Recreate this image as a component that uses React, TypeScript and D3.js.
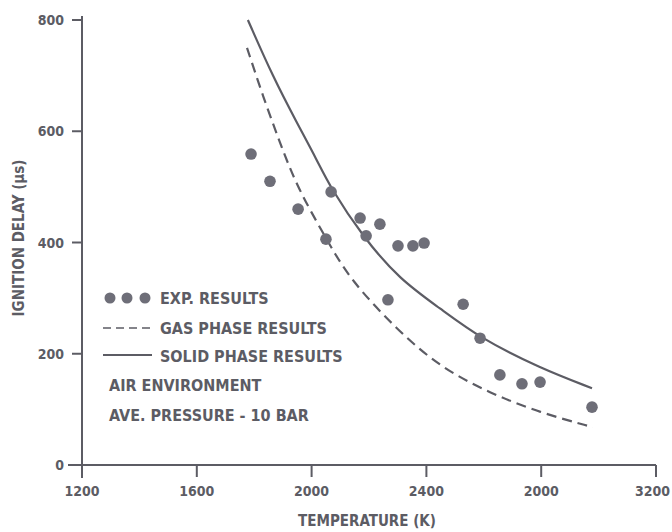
import React from "react";
import * as d3 from "d3";

const xTicks = [1200, 1600, 2000, 2400, 2800, 3200];
const xTickLabels = ["1200", "1600", "2000", "2400", "2000", "3200"];
const yTicks = [0, 200, 400, 600, 800];
const yTickLabels = ["0", "200", "400", "600", "800"];

const expT = [1789, 1855, 1953, 2050, 2068, 2169, 2190, 2238, 2266, 2301, 2353, 2392, 2528, 2587, 2656, 2733, 2796, 2977];
const expDelay = [559, 510, 460, 406, 491, 444, 412, 433, 297, 394, 394, 399, 289, 228, 162, 146, 149, 104];

const solidT = [1778, 1866, 1949, 2019, 2064, 2179, 2308, 2447, 2587, 2796, 2977];
const solidDelay = [800, 697, 615, 548, 500, 410, 333, 282, 228, 174, 138];

const gasT = [1775, 1831, 1890, 1949, 2054, 2134, 2298, 2447, 2622, 2796, 2980];
const gasDelay = [750, 662, 579, 500, 404, 333, 243, 176, 129, 94, 68];

const legendLabels = ["EXP. RESULTS", "GAS PHASE RESULTS", "SOLID PHASE RESULTS", "AIR ENVIRONMENT", "AVE. PRESSURE - 10 BAR"];

const INK = "#5c5c64";
const FONT = "'DejaVu Sans Condensed', 'DejaVu Sans', sans-serif";

export default function App() {
  const x = d3.scaleLinear().domain([1200, 3200]).range([82, 656]);
  const y = d3.scaleLinear().domain([0, 800]).range([465, 20]);
  const line = d3
    .line<[number, number]>()
    .x((d) => x(d[0]))
    .y((d) => y(d[1]))
    .curve(d3.curveBasis);
  const solidPath = line(solidT.map((t, i) => [t, solidDelay[i]]) as [number, number][]) || "";
  const gasPath = line(gasT.map((t, i) => [t, gasDelay[i]]) as [number, number][]) || "";

  return (
    <svg
      width={672}
      height={532}
      style={{ position: "absolute", left: 0, top: 0, background: "#fff" }}
      fontFamily={FONT}
      fontWeight="bold"
    >
      {/* axes */}
      <line x1={x(1200)} y1={16} x2={x(1200)} y2={478} stroke={INK} strokeWidth={2} />
      <line x1={68} y1={y(0)} x2={x(3200)} y2={y(0)} stroke={INK} strokeWidth={2} />
      {yTicks.map((v, i) => (
        <g key={"yt" + v}>
          <line x1={72} x2={x(1200)} y1={y(v)} y2={y(v)} stroke={INK} strokeWidth={2} />
          <text x={64} y={y(v)} dy="0.36em" textAnchor="end" fontSize={14} fill={INK}>
            {yTickLabels[i]}
          </text>
        </g>
      ))}
      {xTicks.map((v, i) => (
        <g key={"xt" + v}>
          <line x1={x(v)} x2={x(v)} y1={y(0)} y2={y(0) + 12} stroke={INK} strokeWidth={2} />
          <text
            x={i === xTicks.length - 1 ? 670 : x(v)}
            y={496}
            textAnchor={i === xTicks.length - 1 ? "end" : "middle"}
            fontSize={14}
            fill={INK}
          >
            {xTickLabels[i]}
          </text>
        </g>
      ))}
      <text x={367} y={526} textAnchor="middle" fontSize={15} fill={INK}>
        TEMPERATURE (K)
      </text>
      <text
        transform={`translate(24,238) rotate(-90)`}
        textAnchor="middle"
        fontSize={15}
        fill={INK}
      >
        IGNITION DELAY (µs)
      </text>

      {/* curves */}
      <path d={solidPath} fill="none" stroke={INK} strokeWidth={2.2} />
      <path d={gasPath} fill="none" stroke={INK} strokeWidth={2.2} strokeDasharray="10,6" />

      {/* points */}
      {expT.map((t, i) => (
        <circle key={"p" + i} cx={x(t)} cy={y(expDelay[i])} r={5.8} fill="#6e6e78" />
      ))}

      {/* legend */}
      <g fill={INK} fontSize={16}>
        {[110, 127, 145].map((cx) => (
          <circle key={"lc" + cx} cx={cx} cy={298} r={5.5} fill="#6e6e78" />
        ))}
        <text x={160} y={304}>{legendLabels[0]}</text>
        <line x1={103} x2={152} y1={328} y2={328} stroke={INK} strokeWidth={1.6} strokeDasharray="8,5" />
        <text x={160} y={334}>{legendLabels[1]}</text>
        <line x1={103} x2={152} y1={355} y2={355} stroke={INK} strokeWidth={1.8} />
        <text x={160} y={362}>{legendLabels[2]}</text>
        <text x={109} y={391}>{legendLabels[3]}</text>
        <text x={109} y={421}>{legendLabels[4]}</text>
      </g>
    </svg>
  );
}
